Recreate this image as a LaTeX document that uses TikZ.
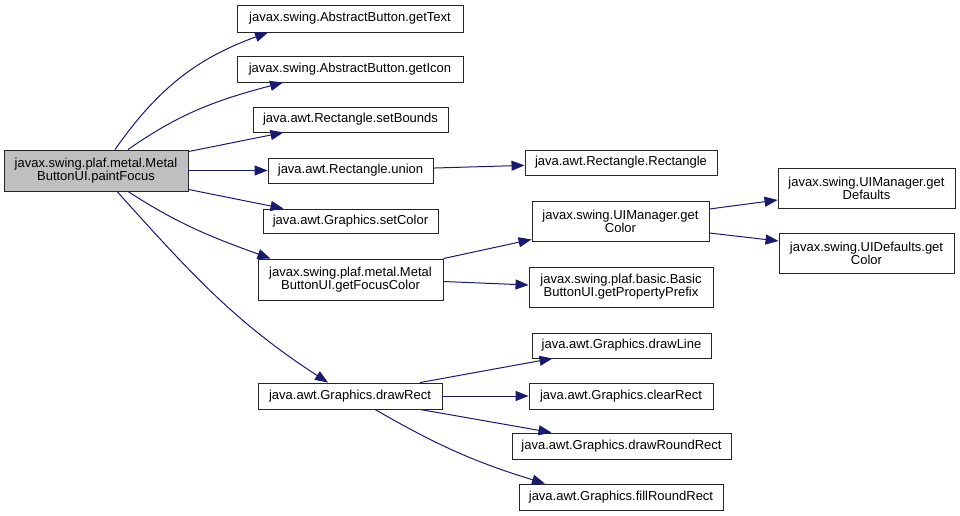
\documentclass[tikz,border=0pt]{standalone}
\usepackage{fontspec}
\setmainfont{Liberation Sans}
\usetikzlibrary{arrows.meta, positioning}
\definecolor{callblue}{RGB}{25,25,112}
\definecolor{focusgray}{RGB}{191,191,191}
\tikzset{
  align=center,
  fn/.style={draw=black!85, line width=0.9pt, fill=white, inner sep=0pt, font=\fontsize{13}{13.2}\selectfont},
  call/.style={callblue, line width=1pt, -{Triangle[length=13pt,width=10pt]}}
}

\begin{document}
\begin{tikzpicture}[x=1pt, y=1pt]
  \useasboundingbox (0,0) rectangle (960,-516);

  % caller
  \node[fn, fill=focusgray, minimum width=184, minimum height=41] (main) at (96,-170.5) {javax.swing.plaf.metal.Metal\\ButtonUI.paintFocus};

  % first level
  \begin{scope}[every node/.style={fn}]
    \node[minimum width=226, minimum height=27] (gettext) at (350,-18.5) {javax.swing.AbstractButton.getText};
    \node[minimum width=226, minimum height=26] (geticon) at (350,-69) {javax.swing.AbstractButton.getIcon};
    \node[minimum width=195, minimum height=25] (setbounds) at (350.5,-119.5) {java.awt.Rectangle.setBounds};
    \node[minimum width=165, minimum height=25] (union) at (350.5,-170.5) {java.awt.Rectangle.union};
    \node[minimum width=175, minimum height=24] (setcolor) at (350.5,-221) {java.awt.Graphics.setColor};
    \node[minimum width=185, minimum height=41] (focus) at (350.5,-279.5) {javax.swing.plaf.metal.Metal\\ButtonUI.getFocusColor};
    \node[minimum width=184, minimum height=26] (drawrect) at (350,-396) {java.awt.Graphics.drawRect};
  \end{scope}

  % second level
  \begin{scope}[every node/.style={fn}]
    \node[minimum width=192, minimum height=25] (rect) at (621,-162.5) {java.awt.Rectangle.Rectangle};
    \node[minimum width=177, minimum height=40] (uimgr) at (620.5,-221) {javax.swing.UIManager.get\\Color};
    \node[minimum width=184, minimum height=40] (prefix) at (621,-287) {javax.swing.plaf.basic.Basic\\ButtonUI.getPropertyPrefix};
    \node[minimum width=179, minimum height=25] (drawline) at (621.5,-345.5) {java.awt.Graphics.drawLine};
    \node[minimum width=184, minimum height=26] (clearrect) at (621,-396) {java.awt.Graphics.clearRect};
    \node[minimum width=219, minimum height=26] (drawround) at (621.5,-446) {java.awt.Graphics.drawRoundRect};
    \node[minimum width=204, minimum height=26] (fillround) at (621,-497) {java.awt.Graphics.fillRoundRect};
  \end{scope}

  % third level
  \begin{scope}[every node/.style={fn}]
    \node[minimum width=177, minimum height=40] (defaults) at (866.5,-188) {javax.swing.UIManager.get\\Defaults};
    \node[minimum width=175, minimum height=40] (uidefaults) at (866.5,-253) {javax.swing.UIDefaults.get\\Color};
  \end{scope}

  % calls of paintFocus
  \draw[call] ([xshift=19]main.north) to[out=55,in=200] ([xshift=-82]gettext.south);
  \draw[call] ([xshift=32]main.north) to[out=35,in=195] ([xshift=-67]geticon.south);
  \draw[call] ([yshift=-2]main.north east) -- ([xshift=-67]setbounds.south);
  \draw[call] (main) -- (union);
  \draw[call] ([yshift=2]main.south east) -- ([xshift=-67]setcolor.north);
  \draw[call] ([xshift=32]main.south) to[out=-33,in=160] ([xshift=-80]focus.north);
  \draw[call] ([xshift=21]main.south) to[out=-48,in=147] ([xshift=-22]drawrect.north);

  % deeper calls
  \draw[call] (union) -- (rect);
  \draw[call] (focus.north east) -- ([yshift=2]uimgr.south west);
  \draw[call] ([yshift=-2]focus.east) -- ([yshift=2]prefix.west);
  \draw[call] ([yshift=12]uimgr.east) -- ([yshift=-12]defaults.west);
  \draw[call] ([yshift=-12]uimgr.east) -- ([yshift=12]uidefaults.west);
  \draw[call] ([xshift=70]drawrect.north) -- ([xshift=-69]drawline.south);
  \draw[call] (drawrect) -- (clearrect);
  \draw[call] ([xshift=70]drawrect.south) -- ([xshift=-70]drawround.north);
  \draw[call] ([xshift=25]drawrect.south) to[out=-30,in=163] ([xshift=-76]fillround.north);

\end{tikzpicture}
\end{document}
